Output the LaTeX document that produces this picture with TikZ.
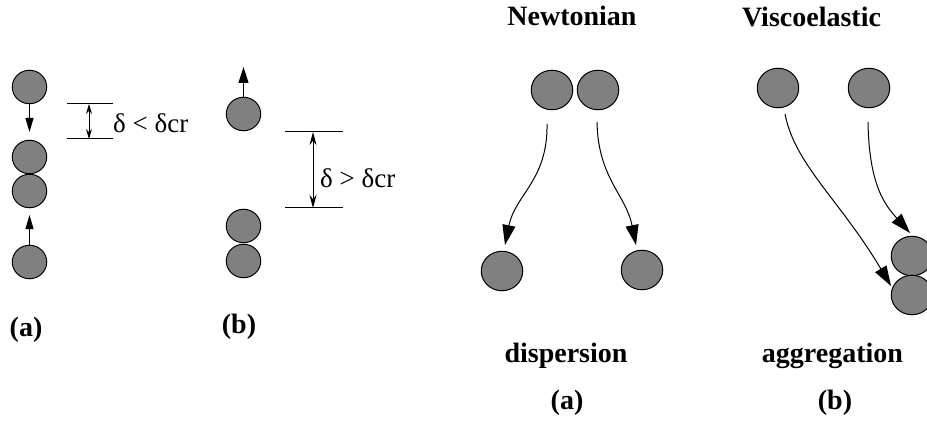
\documentclass[tikz,border=0pt]{standalone}
\usepackage{fontspec}
\setmainfont{Liberation Serif}
\usetikzlibrary{arrows.meta,shapes.geometric}
\definecolor{ballgray}{RGB}{128,128,128}
\tikzset{
  ball/.style={ellipse, draw=black, fill=ballgray, line width=1pt, inner sep=0pt,
    minimum width=34.5pt, minimum height=33.5pt},
  bigball/.style={ball, minimum width=41.5pt, minimum height=39.5pt},
  conn/.style={line width=1pt, -{Triangle[length=14pt,width=8pt]}},
  bigconn/.style={line width=1pt, -{Triangle[length=20pt,width=13pt]}},
  dimline/.style={line width=1pt},
  dimarrow/.style={line width=1pt, {Stealth[length=10pt,width=6pt]}-{Stealth[length=10pt,width=6pt]}},
  lbl/.style={inner sep=0pt, font=\fontsize{28}{30}\selectfont\bfseries, anchor=base},
  dlbl/.style={inner sep=0pt, font=\fontsize{27}{30}\selectfont, anchor=base west}
}
\begin{document}
\begin{tikzpicture}[x=1pt,y=-1pt]
\useasboundingbox (0,0) rectangle (927,425);
% ---- left panel (a)
\node[ball] (a1) at (29.5,87) {};
\node[ball] (a2) at (29.5,157) {};
\node[ball] (a3) at (29.5,191) {};
\node[ball] (a4) at (29.5,262) {};
\coordinate (a1t) at (29.5,132);
\coordinate (a4t) at (29.5,215);
\draw[conn] (a1.south) -- (a1t);
\draw[conn] (a4.north) -- (a4t);
\coordinate (da1) at (67,104); \coordinate (da2) at (113,104);
\coordinate (da3) at (67,139); \coordinate (da4) at (113,139);
\draw[dimline] (da1) -- (da2);
\draw[dimline] (da3) -- (da4);
\coordinate (dau) at (89,104); \coordinate (dal) at (89,139);
\draw[dimarrow] (dau) -- (dal);
\node[dlbl] (dlt) at (113,133) {δ < δcr};
\node[lbl] (la) at (26,336) {(a)};
% ---- left panel (b)
\node[ball] (b1) at (243.5,114) {};
\node[ball] (b2) at (243.5,226) {};
\node[ball] (b3) at (243.5,261) {};
\coordinate (b1t) at (243.5,67);
\draw[conn,-{Triangle[length=16pt,width=10pt]}] (b1.north) -- (b1t);
\coordinate (db1) at (285,132); \coordinate (db2) at (343,132);
\coordinate (db3) at (285,208); \coordinate (db4) at (343,208);
\draw[dimline] (db1) -- (db2);
\draw[dimline] (db3) -- (db4);
\coordinate (dbu) at (313,132); \coordinate (dbl) at (313,208);
\draw[dimline, {Stealth[length=13pt,width=7pt]}-{Stealth[length=13pt,width=7pt]}] (dbu) -- (dbl);
\node[dlbl] (dgt) at (320,188) {δ > δcr};
\node[lbl] (lb) at (239,333) {(b)};
% ---- Newtonian
\node[lbl] (newt) at (572,26) {Newtonian};
\node[bigball] (n1) at (552,90) {};
\node[bigball] (n2) at (598,90) {};
\node[bigball] (n3) at (502,271) {};
\node[bigball] (n4) at (642,270) {};
\coordinate (n1s) at (547,124);
\coordinate (n3t) at (505,245);
\coordinate (n2s) at (597,122);
\coordinate (n4t) at (636,245);
\draw[bigconn] (n1s) .. controls (548,180) and (515,195) .. (n3t);
\draw[bigconn] (n2s) .. controls (598,178) and (626,195) .. (n4t);
\node[lbl] (disp) at (566,362) {dispersion};
\node[lbl] (ra) at (567,409) {(a)};
% ---- Viscoelastic
\node[lbl] (visc) at (811.5,27) {Viscoelastic};
\node[bigball] (v1) at (778,88) {};
\node[bigball] (v2) at (869,88) {};
\node[bigball] (v3) at (912,256) {};
\node[bigball] (v4) at (912,295) {};
\coordinate (v1s) at (785,114);
\coordinate (v4t) at (891,286);
\coordinate (v2s) at (868,122);
\coordinate (v3t) at (910,233);
\draw[bigconn] (v1s) .. controls (795,165) and (840,200) .. (v4t);
\draw[bigconn] (v2s) .. controls (869,185) and (885,205) .. (v3t);
\node[lbl] (aggr) at (832.5,362) {aggregation};
\node[lbl] (rb) at (835,409) {(b)};
\end{tikzpicture}
\end{document}
